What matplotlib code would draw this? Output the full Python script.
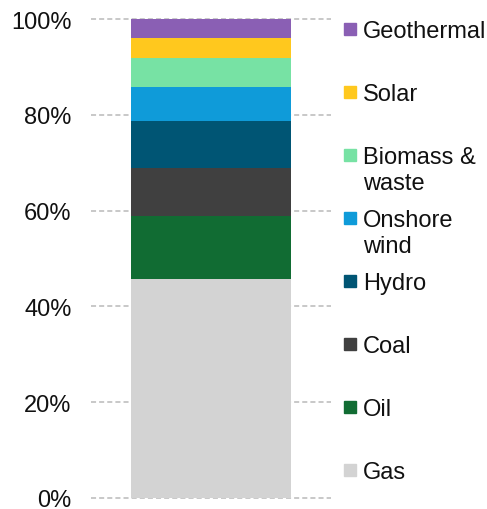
import matplotlib
matplotlib.use("Agg")
import matplotlib.pyplot as plt
from matplotlib.patches import Rectangle

categories = ["Gas", "Oil", "Coal", "Hydro", "Onshore wind", "Biomass & waste", "Solar", "Geothermal"]
legend_labels = ["Gas", "Oil", "Coal", "Hydro", "Onshore\nwind", "Biomass &\nwaste", "Solar", "Geothermal"]
values = [45.7, 13.2, 10.0, 9.9, 7.1, 6.0, 4.1, 4.0]
colors = ["#D3D3D3", "#116C33", "#404040", "#005574", "#0F9BD9", "#77E2A4", "#FFC81E", "#8A5FB4"]
yticks = [0, 20, 40, 60, 80, 100]
ytick_labels = ["0%", "20%", "40%", "60%", "80%", "100%"]

plt.rcParams['font.family'] = ['Liberation Sans', 'DejaVu Sans']
W, H = 487, 510
fig = plt.figure(figsize=(W/100, H/100), dpi=100)
ax = fig.add_axes([91/W, 1 - 499/H, 240/W, 479/H])

bottom = 0
for v, c in zip(values, colors):
    ax.bar(0, v, width=1.0, bottom=bottom, color=c, zorder=2)
    bottom += v

ax.set_xlim(-0.75, 0.75)
ax.set_ylim(0, 100)
ax.set_yticks(yticks)
ax.set_yticklabels(ytick_labels, fontsize=17, color='#111111')
ax.set_xticks([])
ax.tick_params(axis='y', length=0, pad=14)
for s in ax.spines.values():
    s.set_visible(False)
ax.yaxis.grid(True, color='#C4C4C4', linewidth=1.3, linestyle=(0, (2.8, 1.7)), zorder=0)
ax.set_axisbelow(True)
for gl in ax.get_ygridlines():
    gl.set_clip_on(False)

# legend (top to bottom: reversed stacking order)
fs = 17
cap = 0.716 * fs * 100 / 72
y0, step, line_gap = 30, 63.0, 26.0
for i, (lab, c) in enumerate(zip(legend_labels[::-1], colors[::-1])):
    yc = y0 + step * i
    fig.patches.append(Rectangle((344/W, 1 - (yc + 6)/H), 12/W, 12/H,
                                 transform=fig.transFigure, color=c))
    for j, line in enumerate(lab.split("\n")):
        fig.text(363/W, 1 - (yc + cap/2 + j * line_gap)/H, line, fontsize=fs,
                 va='baseline', ha='left', color='#111111')

fig.savefig("out.png", dpi=100)
